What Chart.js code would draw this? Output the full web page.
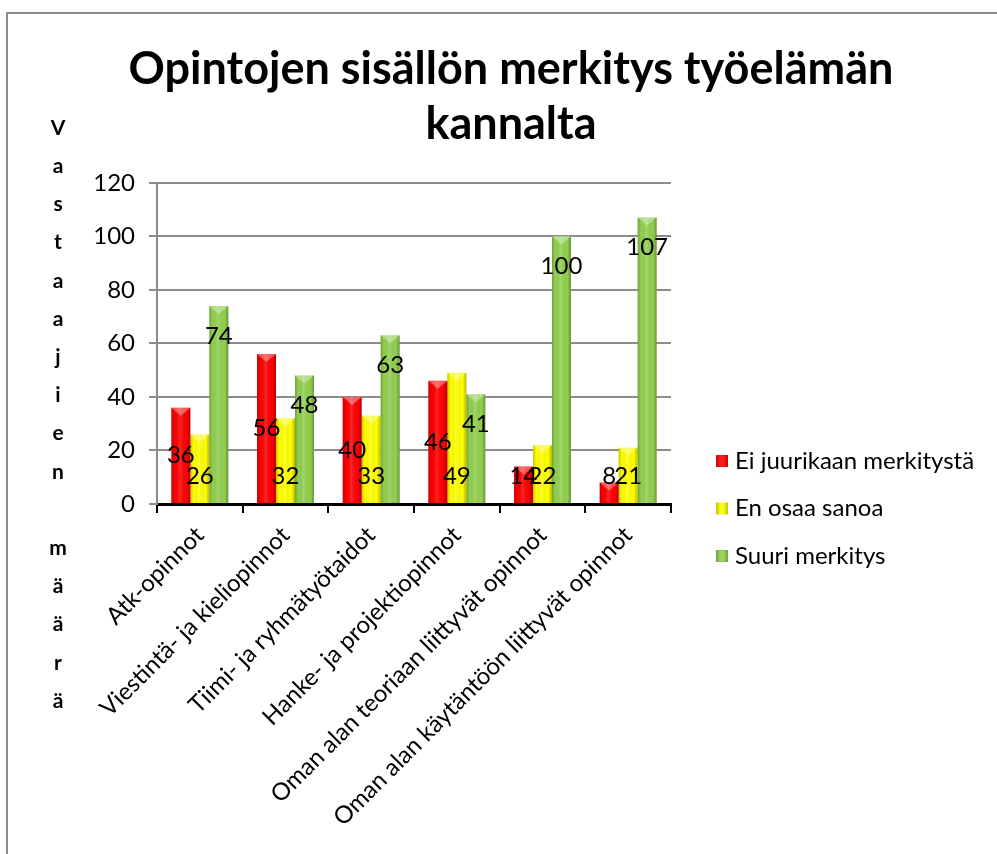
<!DOCTYPE html>
<html><head><meta charset="utf-8">
<script src="https://cdn.jsdelivr.net/npm/chart.js@4.4.0/dist/chart.umd.min.js"></script>
<style>
html,body{margin:0;padding:0;background:#fff;overflow:hidden;width:997px;height:854px;}
#box{position:absolute;left:6px;top:12px;border-left:2px solid #8c8c8c;border-top:2px solid #8c8c8c;width:1100px;height:900px;}
canvas{display:block;}
</style></head><body>
<div id="box"><canvas id="c" width="1006" height="842"></canvas></div>
<script>
const titleLines = ['Opintojen sisällön merkitys työelämän', 'kannalta'];
const yAxisTitle = 'Vastaajien määrä';
const categories = ['Atk-opinnot', 'Viestintä- ja kieliopinnot', 'Tiimi- ja ryhmätyötaidot', 'Hanke- ja projektiopinnot', 'Oman alan teoriaan liittyvät opinnot', 'Oman alan käytäntöön liittyvät opinnot'];
const seriesNames = ['Ei juurikaan merkitystä', 'En osaa sanoa', 'Suuri merkitys'];
const eiJuurikaan = [36, 56, 40, 46, 14, 8];
const enOsaa = [26, 32, 33, 49, 22, 21];
const suuri = [74, 48, 63, 41, 100, 107];
const yTicks = [0, 20, 40, 60, 80, 100, 120];

const FONT = 'Lato';

const barShade = {
  id: 'barShade',
  afterDatasetDraw(chart, args) {
    const ctx = chart.ctx;
    ctx.save();
    args.meta.data.forEach(el => {
      const p = el.getProps(['x', 'y', 'base', 'width'], true);
      const l = p.x - p.width / 2, r = p.x + p.width / 2, h = p.base - p.y;
      const g = ctx.createLinearGradient(l, 0, r, 0);
      g.addColorStop(0, 'rgba(0,0,0,0.22)');
      g.addColorStop(0.18, 'rgba(0,0,0,0)');
      g.addColorStop(0.45, 'rgba(255,255,255,0.15)');
      g.addColorStop(0.8, 'rgba(0,0,0,0)');
      g.addColorStop(1, 'rgba(0,0,0,0.28)');
      ctx.fillStyle = g;
      ctx.fillRect(l, p.y, p.width, h);
      const cap = Math.min(8, h / 2);
      ctx.beginPath();
      ctx.moveTo(l, p.y); ctx.lineTo(r, p.y); ctx.lineTo(p.x, p.y + cap); ctx.closePath();
      ctx.fillStyle = 'rgba(255,255,255,0.35)';
      ctx.fill();
    });
    ctx.restore();
  }
};

const valueLabels = {
  id: 'valueLabels',
  afterDatasetsDraw(chart) {
    const ctx = chart.ctx;
    ctx.save();
    ctx.font = '24px ' + FONT;
    ctx.fillStyle = '#000';
    ctx.textAlign = 'center';
    ctx.textBaseline = 'middle';
    chart.data.datasets.forEach((ds, i) => {
      const meta = chart.getDatasetMeta(i);
      meta.data.forEach((el, j) => {
        const p = el.getProps(['x', 'y', 'base'], true);
        let ly;
        if (ds.labelPos === 'end') ly = p.y + 30;
        else if (ds.labelPos === 'base') ly = p.base - 27;
        else ly = Math.min((p.y + p.base) / 2, p.base - 27);
        ctx.fillText(String(ds.data[j]), p.x, ly);
      });
    });
    ctx.restore();
  }
};

const sideTexts = {
  id: 'sideTexts',
  afterDraw(chart) {
    const ctx = chart.ctx;
    ctx.save();
    ctx.font = 'bold 21px ' + FONT;
    ctx.fillStyle = '#000';
    ctx.textAlign = 'center';
    ctx.textBaseline = 'middle';
    Array.from(yAxisTitle).forEach((ch, i) => {
      if (ch !== ' ') ctx.fillText(ch, 50, 114 + i * 38.2);
    });
    ctx.font = '24px ' + FONT;
    ctx.textAlign = 'left';
    chart.data.datasets.forEach((ds, i) => {
      const cy = 447 + i * 47.5;
      const x0 = 708;
      ctx.fillStyle = ds.backgroundColor;
      ctx.fillRect(x0, cy - 6, 12, 12);
      const g = ctx.createLinearGradient(x0, 0, x0 + 12, 0);
      g.addColorStop(0, 'rgba(0,0,0,0.25)');
      g.addColorStop(0.5, 'rgba(255,255,255,0.1)');
      g.addColorStop(1, 'rgba(0,0,0,0.25)');
      ctx.fillStyle = g;
      ctx.fillRect(x0, cy - 6, 12, 12);
      ctx.fillStyle = '#000';
      ctx.fillText(ds.label, x0 + 19, cy);
    });
    ctx.restore();
  }
};

new Chart(document.getElementById('c'), {
  type: 'bar',
  data: {
    labels: categories,
    datasets: [
      { label: seriesNames[0], data: eiJuurikaan, backgroundColor: '#ff0000', labelPos: 'center' },
      { label: seriesNames[1], data: enOsaa, backgroundColor: '#ffff00', labelPos: 'base' },
      { label: seriesNames[2], data: suuri, backgroundColor: '#92d050', labelPos: 'end' }
    ]
  },
  options: {
    responsive: false,
    animation: false,
    datasets: { bar: { categoryPercentage: 0.665, barPercentage: 1.0, borderWidth: 0 } },
    layout: { padding: 0 },
    plugins: {
      legend: { display: false },
      tooltip: { enabled: false },
      title: {
        display: true,
        text: titleLines,
        color: '#000',
        font: { family: FONT, size: 45, weight: 'bold', lineHeight: 1.22 },
        padding: { top: 28, bottom: 31 }
      }
    },
    scales: {
      x: {
        grid: { offset: true, drawOnChartArea: false, drawTicks: true, tickLength: 9, color: '#000', lineWidth: 2 },
        border: { display: true, color: '#000', width: 3 },
        ticks: { minRotation: 45, maxRotation: 45, autoSkip: false, padding: 8, color: '#000', font: { family: FONT, size: 24 } },
        afterFit(s) { s.height = 352; }
      },
      y: {
        min: 0, max: 120,
        afterBuildTicks(s) { s.ticks = yTicks.map(v => ({ value: v })); },
        grid: { color: '#8c8c8c', lineWidth: 2, tickLength: 8 },
        border: { display: true, color: '#8c8c8c', width: 2 },
        ticks: { padding: 14, color: '#000', font: { family: FONT, size: 24 } },
        afterFit(s) { s.width = 149; }
      },
      spacer: {
        type: 'linear', position: 'right', display: true,
        grid: { display: false }, border: { display: false },
        ticks: { display: false },
        afterFit(s) { s.width = 343; }
      }
    }
  },
  plugins: [barShade, valueLabels, sideTexts]
});
</script>
</body></html>
